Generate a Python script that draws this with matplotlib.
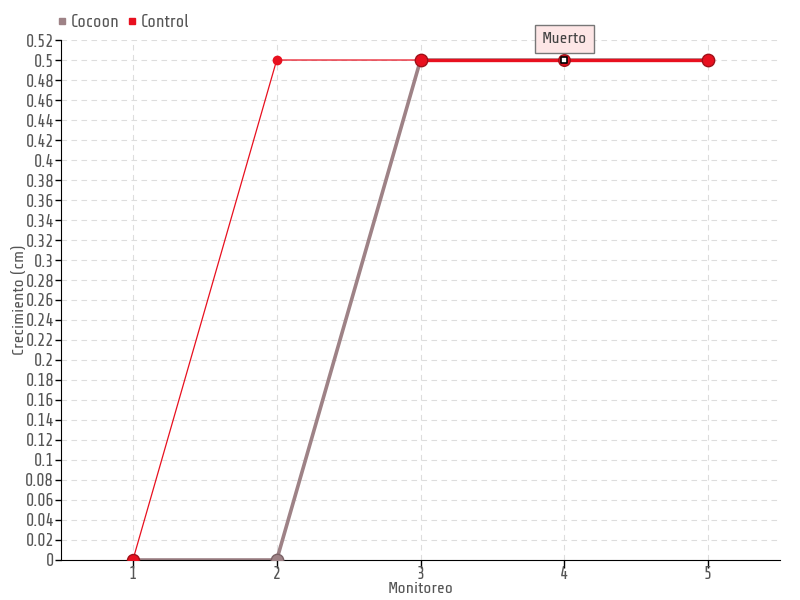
import matplotlib
matplotlib.use("Agg")
import matplotlib.pyplot as plt

monitoreo = [1, 2, 3, 4, 5]
cocoon = [0, 0, 0.5, 0.5, 0.5]
control = [0, 0.5, 0.5, 0.5, 0.5]
yticks = [round(i * 0.02, 2) for i in range(27)]
annot_label = "Muerto"
annot_idx = 3

plt.rcParams['font.family'] = ['Share Tech', 'DejaVu Sans']

c_cocoon = '#9e8286'
c_control = '#e8101f'
tc = '#555555'

fig = plt.figure(figsize=(8, 6), dpi=100)
ax = fig.add_axes([0.07625, 0.0667, 0.89875, 0.8666])

# Cocoon line
ax.plot(monitoreo, cocoon, color=c_cocoon, lw=2.6, zorder=2)
# Control: thin first segments, thick after
ax.plot(monitoreo[:3], control[:3], color=c_control, lw=0.9, zorder=3)
ax.plot(monitoreo[2:], control[2:], color=c_control, lw=2.4, zorder=3)

# markers
ax.scatter(monitoreo[1:2], cocoon[1:2], s=80, color=c_cocoon, edgecolor='#7a6266', lw=1, zorder=4)
ax.scatter(monitoreo[:1], control[:1], s=75, color=c_control, edgecolor='#a01018', lw=1, zorder=5)
ax.scatter(monitoreo[1:2], control[1:2], s=36, color=c_control, zorder=5)
for i in [2, 4]:
    ax.scatter(monitoreo[i], control[i], s=80, color=c_control, edgecolor='#a01018', lw=1, zorder=5)
ax.scatter(monitoreo[annot_idx], control[annot_idx], s=70, color=c_control, edgecolor='#a01018', lw=1, zorder=5)
ax.scatter(monitoreo[annot_idx], control[annot_idx], s=20, marker='s', color='white', edgecolor='black', lw=1.2, zorder=6)

ax.annotate(annot_label, xy=(monitoreo[annot_idx], control[annot_idx]), xytext=(0, 15),
            textcoords='offset points', ha='center', va='center', fontsize=12, color='#444444',
            bbox=dict(boxstyle='square,pad=0.42', fc='#fde6e6', ec='#777777', lw=1),
            zorder=7)

ax.set_xlim(0.5, 5.5)
ax.set_ylim(0, 0.52)
ax.set_xticks(monitoreo)
ax.set_xticklabels([str(m) for m in monitoreo])
ax.set_yticks(yticks)
ax.set_yticklabels(['0' if v == 0 else ('%g' % v) for v in yticks])
ax.tick_params(axis='both', colors='black', labelcolor=tc, labelsize=12.5, length=4, width=1, pad=1)
ax.tick_params(axis='x', length=6, pad=-2)
ax.grid(True, color='#dddddd', linestyle=(0, (5, 4)), lw=0.8)
ax.set_axisbelow(True)
for s in ['top', 'right']:
    ax.spines[s].set_visible(False)
ax.spines['left'].set_color('black')
ax.spines['bottom'].set_color('black')

ax.set_xlabel('Monitoreo', color=tc, fontsize=12, labelpad=0)
ax.set_ylabel('Crecimiento (cm)', color=tc, fontsize=12, labelpad=-1)

# legend
h1 = plt.Line2D([], [], marker='s', ls='', color=c_cocoon, ms=5)
h2 = plt.Line2D([], [], marker='s', ls='', color=c_control, ms=5)
fig.legend([h1, h2], ['Cocoon', 'Control'], loc='upper left', bbox_to_anchor=(0.052, 1.003),
           ncol=2, frameon=False, fontsize=12.5, handlelength=0.6, handletextpad=0.2,
           columnspacing=0.4, labelcolor=tc)

fig.savefig('out.png', dpi=100)
